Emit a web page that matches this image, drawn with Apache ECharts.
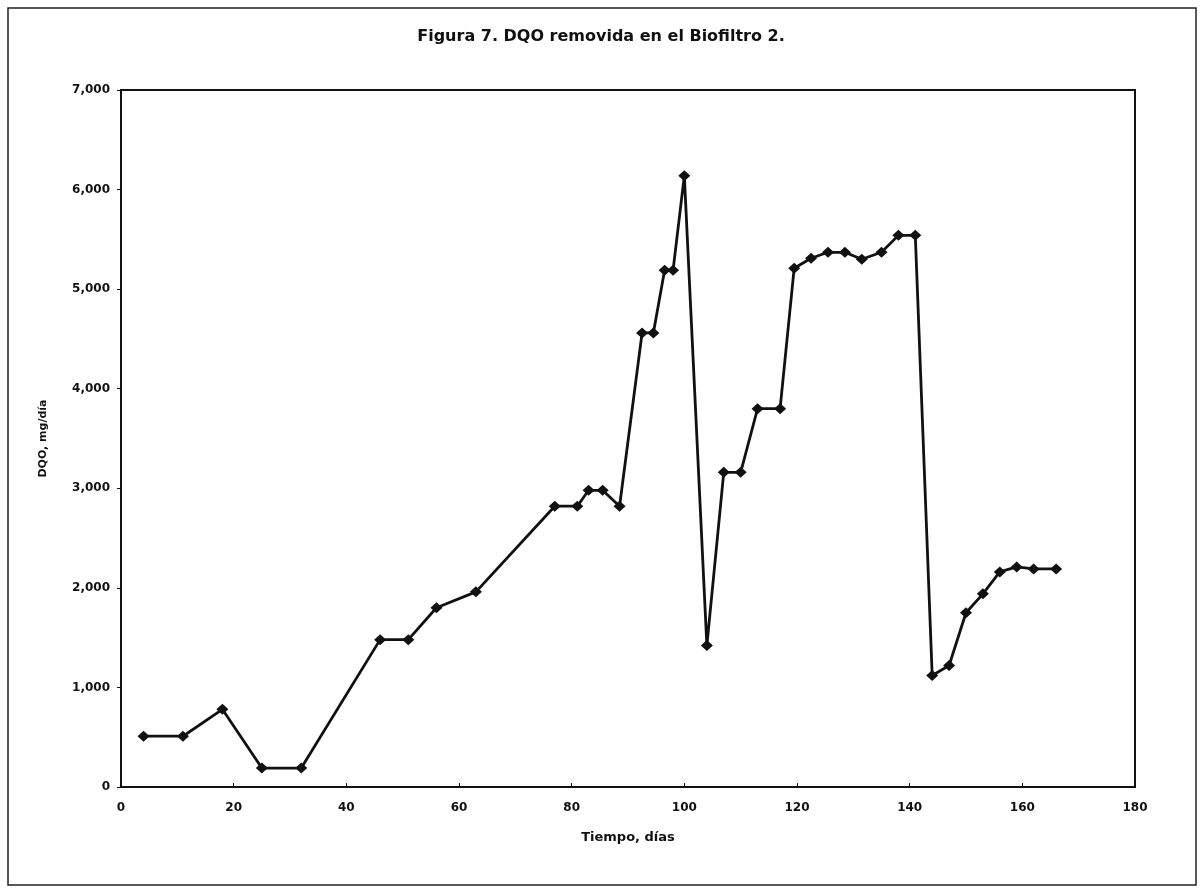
<!DOCTYPE html>
<html>
<head>
<meta charset="utf-8">
<script src="https://cdn.jsdelivr.net/npm/echarts@6/dist/echarts.min.js"></script>
<style>
html,body{margin:0;padding:0;background:#fff;}
#c{width:1202px;height:890px;}
</style>
</head>
<body>
<div id="c"></div>
<script>
const titleText = 'Figura 7. DQO removida en el Biofiltro 2.';
const xName = 'Tiempo, días';
const yName = 'DQO, mg/día';
const days = [4,11,18,25,32,46,51,56,63,77,81,83,85.5,88.5,92.5,94.5,96.5,98,100,104,107,110,113,117,119.5,122.5,125.5,128.5,131.5,135,138,141,144,147,150,153,156,159,162,166];
const dqo = [510,510,780,190,190,1480,1480,1800,1960,2820,2820,2980,2980,2820,4560,4560,5190,5190,6140,1420,3160,3160,3800,3800,5210,5310,5370,5370,5300,5370,5540,5540,1120,1220,1750,1940,2160,2210,2190,2190];
const xTicks = {min:0, max:180, interval:20};
const yTicks = {min:0, max:7000, interval:1000};

const chart = echarts.init(document.getElementById('c'), null, {renderer:'canvas'});
const font = '"DejaVu Sans", "Liberation Sans", Arial, sans-serif';
chart.setOption({
  animation:false,
  backgroundColor:'#fff',
  graphic:[{type:'rect', shape:{x:8,y:8,width:1188,height:877}, style:{fill:'none', stroke:'#222', lineWidth:1.5}}],
  title:{text:titleText, left:'center', top:24, textStyle:{fontFamily:font, fontWeight:'bold', fontSize:16, color:'#111'}},
  grid:{left:121, top:90, width:1014, height:697, show:true, borderColor:'#111', borderWidth:2, backgroundColor:'transparent'},
  xAxis:{type:'value', min:xTicks.min, max:xTicks.max, interval:xTicks.interval,
    name:xName, nameLocation:'middle', nameGap:44,
    nameTextStyle:{fontFamily:font, fontWeight:'bold', fontSize:13, color:'#111'},
    axisLine:{lineStyle:{color:'#111', width:2}},
    axisTick:{inside:true, length:4, lineStyle:{color:'#111'}},
    axisLabel:{fontFamily:font, fontWeight:'bold', fontSize:12, color:'#111', margin:15},
    splitLine:{show:false}},
  yAxis:{type:'value', min:yTicks.min, max:yTicks.max, interval:yTicks.interval,
    name:yName, nameLocation:'middle', nameGap:72, nameRotate:90,
    nameTextStyle:{fontFamily:font, fontWeight:'bold', fontSize:11, color:'#111'},
    axisLine:{lineStyle:{color:'#111', width:2}},
    axisTick:{length:4, lineStyle:{color:'#111'}},
    axisLabel:{fontFamily:font, fontWeight:'bold', fontSize:12, color:'#111', margin:11,
      formatter:v=>v.toLocaleString('en-US')},
    splitLine:{show:false}},
  series:[{type:'line', data:days.map((d,i)=>[d,dqo[i]]),
    symbol:'diamond', symbolSize:[12,11], showAllSymbol:true,
    lineStyle:{color:'#111', width:2.8}, itemStyle:{color:'#111'}}]
});
</script>
</body>
</html>
